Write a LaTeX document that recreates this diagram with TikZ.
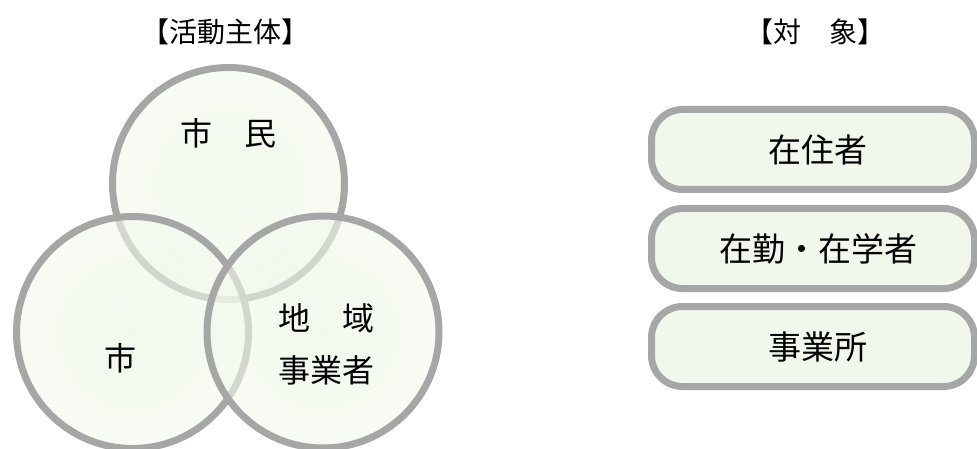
\documentclass[tikz,border=0pt]{standalone}
\usepackage{fontspec}
\setmainfont{Noto Sans CJK JP}
\definecolor{ringgray}{RGB}{166,166,166}
\definecolor{boxfill}{RGB}{241,248,235}
\definecolor{cin}{RGB}{234,245,224}
\definecolor{cout}{RGB}{253,254,252}
\pgfdeclareradialshading{softgreen}{\pgfpoint{0bp}{0bp}}{color(0bp)=(cin); color(10bp)=(cin!85!cout); color(46bp)=(cout); color(50bp)=(cout)}
\tikzset{
  ring/.style={circle, minimum size=232pt, inner sep=0pt, shading=softgreen, fill opacity=0.6, draw=ringgray, draw opacity=1, line width=7pt},
  pill/.style={rectangle, rounded corners=31pt, minimum width=323pt, minimum height=80pt, inner sep=0pt, fill=boxfill, draw=ringgray, line width=7pt},
  bigtxt/.style={font=\fontsize{32}{52}\selectfont, text=black, align=center},
  boxtxt/.style={font=\fontsize{33}{40}\selectfont, text=black},
  titletxt/.style={font=\fontsize{28}{32}\selectfont, text=black}
}
\begin{document}
\begin{tikzpicture}[x=1pt,y=-1pt]
\useasboundingbox (0,0) rectangle (977,449);
\fill[white] (0,0) rectangle (977,449);
% titles
\node[titletxt] (t1) at (225,32) {【活動主体】};
\node[titletxt] (t2) at (815,32) {【対　象】};
% circles (order: top, left, right)
\node[ring] (cshimin) at (228.5,183.5) {};
\node[ring] (cshi) at (132.5,332.5) {};
\node[ring] (cjigyo) at (323,332) {};
\node[bigtxt] (lshimin) at (228,133) {市　民};
\node[bigtxt] (lshi) at (120,358) {市};
\node[bigtxt] (ljigyo) at (326,344) {地　域\\事業者};
% target boxes
\node[pill] (b1) at (813,149.5) {};
\node[pill] (b2) at (813,248.5) {};
\node[pill] (b3) at (813,346.5) {};
\node[boxtxt] (l1) at ([xshift=5pt]b1.center) {在住者};
\node[boxtxt] (l2) at ([xshift=5pt]b2.center) {在勤・在学者};
\node[boxtxt] (l3) at ([xshift=5pt]b3.center) {事業所};
\end{tikzpicture}
\end{document}
